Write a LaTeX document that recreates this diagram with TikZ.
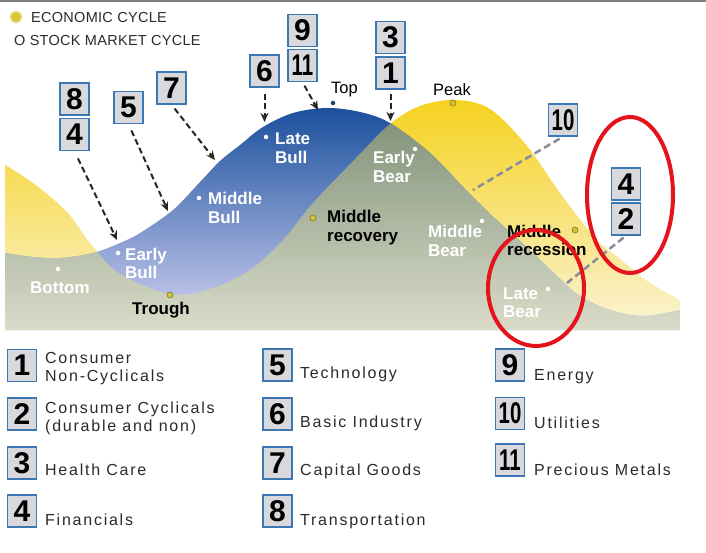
\documentclass[tikz,border=0pt]{standalone}
\usepackage{fontspec}
\setmainfont{Liberation Sans}
\newfontfamily\legfont[LetterSpace=11]{Liberation Sans}
\newfontfamily\capfont[LetterSpace=2]{Liberation Sans}
\usetikzlibrary{arrows.meta}
\definecolor{ylwTop}{HTML}{F5D11C}
\definecolor{ylwBot}{HTML}{FBF4D6}
\definecolor{bluTop}{HTML}{184E9C}
\definecolor{bluBot}{HTML}{BCC3E8}
\definecolor{grnTop}{HTML}{82937A}
\definecolor{grnBot}{HTML}{DADCC9}
\definecolor{boxgray}{HTML}{D8D8DD}
\definecolor{boxblue}{HTML}{3C78B4}
\definecolor{ecoYel}{HTML}{D2C236}
\definecolor{ecoEdge}{HTML}{857A1E}
\definecolor{ringred}{HTML}{E3141C}
\definecolor{legtext}{HTML}{2B2B2B}
\definecolor{dashgray}{HTML}{8A8A9C}
\definecolor{topnavy}{HTML}{1F3F7A}
\newcommand\ycurve{plot[smooth,tension=0.55] coordinates {(5,165) (33,183) (67,212) (90,243) (120,274) (170,294) (210,289) (250,270) (283,240) (313,203) (357,157) (390,124) (420,106) (455,100) (490,109) (527,146) (560,193) (595,238) (620,259) (647,281) (680,300)}}
\newcommand\bcurve{plot[smooth,tension=0.55] coordinates {(5,253) (33,257) (60,258) (93,253) (120,243) (140,233) (173,210) (200,182) (220,161) (240,145) (263,127) (293,113) (327,108) (360,112) (390,123) (430,153) (463,187) (487,211) (510,232) (530,250) (557,276) (580,296) (610,310) (643,316) (680,310)}}
\begin{document}
\begin{tikzpicture}[x=1pt,y=-1pt,
  numbox/.style={draw=boxblue, line width=1.3, fill=boxgray, minimum width=29, minimum height=32, inner sep=0, font=\bfseries\fontsize{30}{30}\selectfont},
  lblw/.style={anchor=base west, inner sep=0, align=left, text=white, font=\bfseries\fontsize{17}{18.5}\selectfont},
  lblb/.style={lblw, text=black},
  legtxt/.style={anchor=base west, inner sep=0, align=left, text=legtext, font=\legfont\fontsize{16}{18.5}\selectfont},
  captxt/.style={anchor=base west, inner sep=0, text=legtext, font=\capfont\fontsize{14.5}{16}\selectfont},
  sdot/.style={circle, fill=white, inner sep=0, minimum size=4.5},
  edot/.style={circle, fill=ecoYel, draw=ecoEdge, line width=0.6, inner sep=0, minimum size=6},
  darrow/.style={draw=black!85, line width=2, dash pattern=on 6 off 3.5, -{Stealth[length=9,width=8]}},
  gline/.style={draw=dashgray, line width=2.5, dash pattern=on 7 off 4},
  redring/.style={draw=ringred, line width=4}
]
\fill[white] (0,0) rectangle (706,553);
\useasboundingbox (0,0) rectangle (706,553);
\draw[gray, line width=2] (0,1) -- (706,1);

% yellow region (economic cycle)
\begin{scope}
  \clip \ycurve -- (680,330) -- (5,330) -- cycle;
  \shade[top color=ylwTop, bottom color=ylwBot] (5,95) rectangle (680,331);
\end{scope}
% blue region (stock market cycle)
\begin{scope}
  \clip \bcurve -- (680,330) -- (5,330) -- cycle;
  \shade[top color=bluTop, bottom color=bluBot] (5,105) rectangle (680,300);
  \fill[bluBot] (5,299.5) rectangle (680,331);
\end{scope}
% overlap
\begin{scope}
  \clip \ycurve -- (680,330) -- (5,330) -- cycle;
  \clip \bcurve -- (680,330) -- (5,330) -- cycle;
  \shade[top color=grnTop, bottom color=grnBot] (5,118) rectangle (680,331);
\end{scope}

% legend at top
\node[edot, minimum size=11, fill=ecoYel!90!yellow, draw=ecoYel!60, line width=1.5] (legdot) at (16,17) {};
\node[captxt] (legeco) at (31,23) {ECONOMIC CYCLE};
\node[captxt] (legstock) at (14,46) {O STOCK MARKET CYCLE};

% stock market cycle points
\node[sdot] (dBottom) at (58,269) {};
\node[sdot] (dEBull) at (118,253) {};
\node[sdot] (dMBull) at (199,198) {};
\node[sdot] (dLBull) at (266,137) {};
\node[sdot, fill=topnavy] (dTop) at (333,103) {};
\node[sdot] (dEBear) at (415,149) {};
\node[sdot] (dMBear) at (482,221) {};
\node[sdot] (dLBear) at (548,289) {};
% economic cycle points
\node[edot] (dTrough) at (170,295) {};
\node[edot] (dMRec) at (313,218) {};
\node[edot] (dPeak) at (453,103) {};
\node[edot] (dMRecs) at (575,230) {};

% labels (base = baseline of the last line)
\node[lblw] (tBottom) at (30,293) {Bottom};
\node[lblw] (tEBull) at (125,278.5) {Early\\Bull};
\node[lblw] (tMBull) at (208,223.5) {Middle\\Bull};
\node[lblw] (tLBull) at (275,163.5) {Late\\Bull};
\node[lblw] (tEBear) at (373,182.5) {Early\\Bear};
\node[lblw] (tMBear) at (428,256.5) {Middle\\Bear};
\node[lblw] (tLBear) at (503,317.5) {Late\\Bear};
\node[lblb] (tTrough) at (132,314) {Trough};
\node[lblb] (tMRec) at (327,241.5) {Middle\\recovery};
\node[lblb] (tMRecs) at (507,255.5) {Middle\\recession};
\node[anchor=base west, inner sep=0, font=\fontsize{16.5}{18}\selectfont] (tTop) at (331,94) {Top};
\node[anchor=base west, inner sep=0, font=\fontsize{16.5}{18}\selectfont] (tPeak) at (433,96) {Peak};

% numbered boxes in the chart
\node[numbox] (b8) at (74.5,99) {8};
\node[numbox] (b4a) at (74.5,134.5) {4};
\node[numbox] (b5) at (128.5,107.5) {5};
\node[numbox] (b7) at (171.5,88) {7};
\node[numbox] (b6) at (264.5,71) {6};
\node[numbox] (b9) at (302.5,30.5) {9};
\node[numbox] (b11) at (302.5,65.5) {\scalebox{0.68}[1]{11}};
\node[numbox] (b3) at (390.5,37.5) {3};
\node[numbox] (b1) at (390.5,73) {1};
\node[numbox] (b10) at (563,120) {\scalebox{0.68}[1]{10}};
\node[numbox] (b4b) at (626,184) {4};
\node[numbox] (b2) at (626,219) {2};

% arrow targets
\coordinate (t4) at (117,240);
\coordinate (t5) at (168,211);
\coordinate (t7) at (215,160);
\coordinate (t6) at (264.5,122);
\coordinate (t11) at (318,110);
\coordinate (t1) at (390.5,121);
\coordinate (t10) at (473,190);
\coordinate (t2) at (567,283);

\draw[darrow, shorten <=8] (b4a.south) -- (t4);
\draw[darrow, shorten <=7] (b5.south) -- (t5);
\draw[darrow, shorten <=5] (b7.south) -- (t7);
\draw[darrow, shorten <=6] (b6.south) -- (t6);
\draw[darrow, shorten <=4] (b11.south) -- (t11);
\draw[darrow, shorten <=4] (b1.south) -- (t1);
\draw[gline, shorten <=4] (b10.south) -- (t10);
\draw[gline, shorten <=3] (b2.south) -- (t2);

% red highlight rings
\draw[redring] (630,195) ellipse [x radius=43, y radius=78];
\draw[redring] (536,288) ellipse [x radius=48, y radius=58];

% legend at bottom
\node[numbox] (L1) at (22,365.5) {1};
\node[numbox] (L2) at (22,414) {2};
\node[numbox] (L3) at (22,463) {3};
\node[numbox] (L4) at (22,511) {4};
\node[numbox] (L5) at (277.5,365) {5};
\node[numbox] (L6) at (277.5,414) {6};
\node[numbox] (L7) at (277.5,463) {7};
\node[numbox] (L8) at (277.5,511) {8};
\node[numbox] (L9) at (510,365) {9};
\node[numbox] (L10) at (510,413.5) {\scalebox{0.68}[1]{10}};
\node[numbox] (L11) at (510,460) {\scalebox{0.68}[1]{11}};

\node[legtxt] (n1) at (45,381.5) {Consumer\\Non-Cyclicals};
\node[legtxt] (n2) at (45,431.5) {Consumer Cyclicals\\(durable and non)};
\node[legtxt] (n3) at (45,475) {Health Care};
\node[legtxt] (n4) at (45,525) {Financials};
\node[legtxt] (n5) at (300,378) {Technology};
\node[legtxt] (n6) at (300,427) {Basic Industry};
\node[legtxt] (n7) at (300,475) {Capital Goods};
\node[legtxt] (n8) at (300,525) {Transportation};
\node[legtxt] (n9) at (534,380) {Energy};
\node[legtxt] (n10) at (534,428) {Utilities};
\node[legtxt] (n11) at (534,475) {Precious Metals};
\end{tikzpicture}
\end{document}
